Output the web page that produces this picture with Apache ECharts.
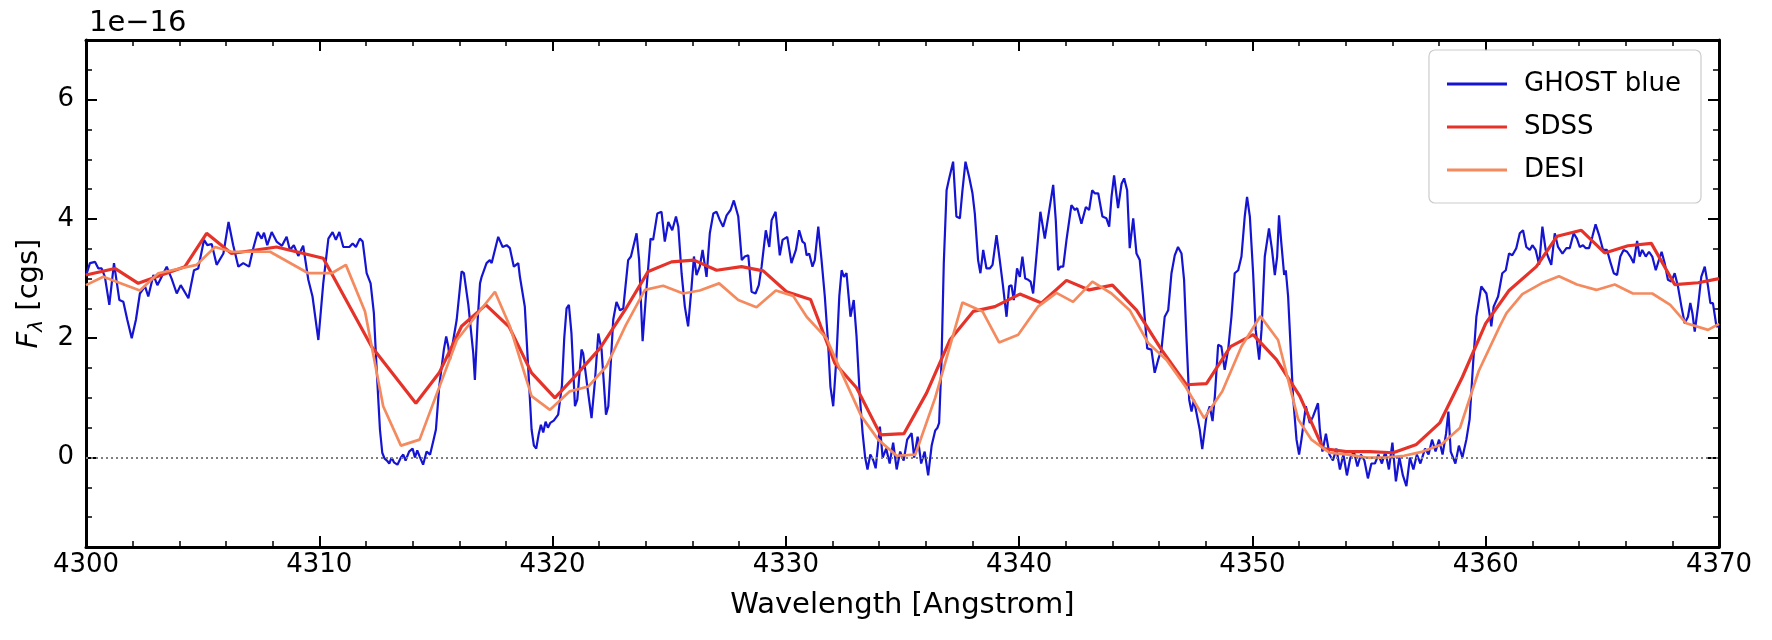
<!DOCTYPE html>
<html>
<head>
<meta charset="utf-8">
<script src="https://cdn.jsdelivr.net/npm/echarts@6/dist/echarts.min.js"></script>
<style>
  html, body { margin: 0; padding: 0; background: #fff; }
  #chart { width: 1772px; height: 640px; }
</style>
</head>
<body>
<div id="chart"></div>
<script>
// GHOST blue arm, [wavelength, flux / 1e-16]
var ghost = [
  [4300.0,3.05],[4300.17,3.26],[4300.39,3.28],[4300.53,3.17],[4300.67,3.17],[4300.81,3.03],[4301.0,2.56],[4301.2,3.26],
  [4301.43,2.64],[4301.6,2.61],[4301.77,2.31],[4301.96,2.0],[4302.14,2.31],[4302.31,2.75],[4302.53,2.87],[4302.67,2.70],
  [4302.89,3.06],[4303.06,2.89],[4303.46,3.20],[4303.67,3.0],[4303.89,2.75],[4304.06,2.89],[4304.39,2.67],[4304.63,3.14],
  [4304.81,3.17],[4305.06,3.65],[4305.2,3.56],[4305.39,3.58],[4305.6,3.23],[4305.89,3.42],[4306.11,3.95],[4306.31,3.56],
  [4306.53,3.2],[4306.74,3.26],[4306.99,3.2],[4307.17,3.51],[4307.36,3.78],[4307.53,3.67],[4307.63,3.77],[4307.77,3.56],
  [4307.96,3.78],[4308.17,3.62],[4308.4,3.55],[4308.6,3.7],[4308.74,3.48],[4308.91,3.56],[4309.1,3.38],[4309.31,3.55],
  [4309.53,2.98],[4309.71,2.7],[4309.96,1.97],[4310.17,2.92],[4310.39,3.67],[4310.57,3.78],[4310.71,3.65],[4310.86,3.78],
  [4311.03,3.53],[4311.29,3.53],[4311.43,3.59],[4311.57,3.53],[4311.74,3.67],[4311.86,3.62],[4312.03,3.09],[4312.2,2.92],
  [4312.34,2.42],[4312.46,1.47],[4312.6,0.47],[4312.7,0.08],[4312.8,-0.02],[4312.9,-0.05],[4313.0,-0.1],[4313.1,0.0],
  [4313.2,-0.08],[4313.35,-0.12],[4313.5,0.0],[4313.6,0.05],[4313.7,-0.05],[4313.85,0.1],[4314.0,0.15],[4314.1,0.0],
  [4314.2,0.12],[4314.3,0.02],[4314.45,-0.12],[4314.6,0.1],[4314.75,0.05],[4314.9,0.3],[4315.0,0.47],[4315.14,1.19],
  [4315.34,1.81],[4315.44,2.03],[4315.53,1.86],[4315.6,1.64],[4315.89,2.31],[4316.1,3.12],[4316.2,3.09],[4316.39,2.56],
  [4316.46,2.53],[4316.6,1.75],[4316.67,1.30],[4316.79,2.31],[4316.89,2.92],[4316.96,3.03],[4317.17,3.26],[4317.31,3.31],
  [4317.39,3.26],[4317.56,3.53],[4317.67,3.70],[4317.86,3.53],[4318.03,3.56],[4318.17,3.51],[4318.34,3.20],[4318.53,3.26],
  [4318.6,3.03],[4318.81,2.53],[4318.96,1.47],[4319.1,0.47],[4319.2,0.2],[4319.3,0.15],[4319.4,0.38],[4319.5,0.55],
  [4319.6,0.42],[4319.7,0.6],[4319.8,0.5],[4319.9,0.58],[4320.05,0.62],[4320.24,0.72],[4320.4,1.2],[4320.5,2.0],
  [4320.6,2.5],[4320.7,2.56],[4320.81,2.08],[4320.96,0.86],[4321.06,0.97],[4321.24,1.81],[4321.31,1.75],[4321.49,1.19],
  [4321.67,0.66],[4321.81,1.25],[4321.96,2.08],[4322.1,1.81],[4322.29,0.72],[4322.39,0.86],[4322.6,2.31],[4322.74,2.61],
  [4322.89,2.47],[4323.03,2.50],[4323.24,3.31],[4323.36,3.37],[4323.43,3.34],[4323.6,3.76],[4323.71,3.31],[4323.86,1.95],
  [4324.0,2.70],[4324.2,3.67],[4324.31,3.65],[4324.49,4.09],[4324.67,4.12],[4324.81,3.62],[4324.96,3.95],[4325.13,3.81],
  [4325.29,4.04],[4325.39,3.87],[4325.53,3.09],[4325.67,2.53],[4325.81,2.20],[4325.96,2.87],[4326.06,3.37],[4326.17,3.06],
  [4326.31,3.20],[4326.43,3.48],[4326.6,3.03],[4326.74,3.76],[4326.89,4.09],[4327.03,4.12],[4327.17,3.98],[4327.31,3.87],
  [4327.46,4.06],[4327.63,4.15],[4327.77,4.31],[4327.96,4.04],[4328.11,3.31],[4328.24,3.37],[4328.39,3.39],[4328.53,2.78],
  [4328.7,2.75],[4328.84,2.89],[4328.96,3.20],[4329.14,3.81],[4329.29,3.53],[4329.39,3.98],[4329.56,4.12],[4329.74,3.39],
  [4329.86,3.65],[4330.06,3.70],[4330.24,3.26],[4330.43,3.48],[4330.57,3.81],[4330.71,3.62],[4330.81,3.59],[4330.89,3.39],
  [4331.0,3.42],[4331.14,3.20],[4331.24,3.31],[4331.39,3.87],[4331.53,3.31],[4331.67,2.70],[4331.81,1.92],[4331.91,1.19],
  [4332.03,0.86],[4332.17,1.69],[4332.29,2.70],[4332.39,3.14],[4332.49,3.03],[4332.6,3.09],[4332.77,2.36],[4332.91,2.64],
  [4333.03,2.03],[4333.17,1.03],[4333.29,0.41],[4333.4,0.0],[4333.5,-0.2],[4333.62,0.05],[4333.75,-0.05],[4333.85,-0.18],
  [4334.03,0.52],[4334.15,0.0],[4334.3,0.15],[4334.45,-0.1],[4334.6,0.25],[4334.75,-0.2],[4334.9,0.1],[4335.05,-0.05],
  [4335.2,0.3],[4335.39,0.41],[4335.5,0.0],[4335.65,0.35],[4335.8,-0.1],[4335.95,0.1],[4336.1,-0.3],[4336.25,0.2],
  [4336.4,0.45],[4336.5,0.5],[4336.57,0.58],[4336.67,1.58],[4336.77,3.26],[4336.89,4.48],[4337.0,4.68],[4337.17,4.96],
  [4337.31,4.04],[4337.46,4.01],[4337.57,4.48],[4337.7,4.96],[4337.86,4.70],[4338.0,4.43],[4338.1,4.09],[4338.24,3.31],
  [4338.34,3.09],[4338.46,3.48],[4338.6,3.17],[4338.74,3.17],[4338.86,3.23],[4339.03,3.73],[4339.17,3.31],[4339.31,2.87],
  [4339.46,2.36],[4339.57,2.87],[4339.67,2.89],[4339.77,2.64],[4339.91,3.17],[4340.03,3.03],[4340.14,3.37],[4340.26,3.0],
  [4340.39,2.98],[4340.49,2.95],[4340.6,2.75],[4340.74,3.37],[4340.91,4.12],[4341.1,3.67],[4341.46,4.57],[4341.57,3.98],
  [4341.67,3.14],[4341.77,3.20],[4341.89,3.20],[4342.03,3.65],[4342.24,4.23],[4342.39,4.15],[4342.49,4.18],[4342.67,3.92],
  [4342.86,4.20],[4343.0,4.15],[4343.13,4.48],[4343.24,4.43],[4343.39,4.43],[4343.57,4.04],[4343.74,4.01],[4343.86,3.87],
  [4343.96,4.37],[4344.07,4.73],[4344.24,4.18],[4344.39,4.59],[4344.5,4.68],[4344.63,4.48],[4344.74,3.51],[4344.89,4.01],
  [4345.03,3.42],[4345.17,3.31],[4345.31,2.70],[4345.49,1.83],[4345.67,1.81],[4345.81,1.42],[4345.96,1.64],[4346.1,1.81],
  [4346.24,2.36],[4346.39,2.47],[4346.53,3.09],[4346.67,3.39],[4346.81,3.53],[4346.96,3.42],[4347.07,2.98],[4347.17,2.03],
  [4347.29,0.97],[4347.39,0.77],[4347.49,0.97],[4347.6,0.75],[4347.74,0.47],[4347.85,0.14],[4348.03,0.69],[4348.17,0.86],
  [4348.29,0.61],[4348.39,1.03],[4348.53,1.89],[4348.67,1.86],[4348.81,1.47],[4348.96,1.81],[4349.1,2.36],[4349.24,3.09],
  [4349.39,3.14],[4349.53,3.37],[4349.67,4.04],[4349.77,4.37],[4349.89,4.04],[4350.03,3.09],[4350.14,2.14],[4350.29,1.64],
  [4350.39,2.14],[4350.53,3.37],[4350.71,3.84],[4350.84,3.48],[4350.96,3.06],[4351.06,3.37],[4351.14,4.06],[4351.24,3.59],
  [4351.36,3.06],[4351.43,3.14],[4351.53,2.70],[4351.74,1.03],[4351.89,0.30],[4352.0,0.05],[4352.1,0.3],[4352.29,0.86],
  [4352.46,0.58],[4352.6,0.69],[4352.81,0.91],[4352.89,0.47],[4353.0,0.1],[4353.15,0.4],[4353.3,0.05],[4353.45,-0.05],
  [4353.6,0.15],[4353.75,-0.2],[4353.9,0.05],[4354.05,-0.3],[4354.2,0.0],[4354.35,0.1],[4354.5,-0.15],[4354.65,0.05],
  [4354.8,-0.05],[4354.95,-0.35],[4355.1,-0.1],[4355.25,-0.1],[4355.4,0.05],[4355.55,-0.1],[4355.7,0.1],[4355.85,-0.2],
  [4356.0,0.25],[4356.15,-0.4],[4356.3,0.0],[4356.45,-0.3],[4356.6,-0.48],[4356.75,0.0],[4356.9,-0.2],[4357.05,0.05],
  [4357.2,-0.1],[4357.4,0.15],[4357.55,0.05],[4357.7,0.3],[4357.85,0.1],[4358.0,0.3],[4358.15,0.05],[4358.3,0.4],
  [4358.4,0.77],[4358.5,0.1],[4358.7,-0.1],[4358.85,0.2],[4359.0,0.0],[4359.17,0.3],[4359.31,0.64],[4359.46,1.58],
  [4359.6,2.36],[4359.81,2.87],[4360.03,2.75],[4360.14,2.47],[4360.24,2.20],[4360.34,2.53],[4360.53,2.70],[4360.71,3.09],
  [4360.86,3.14],[4361.0,3.42],[4361.14,3.39],[4361.31,3.51],[4361.46,3.76],[4361.6,3.81],[4361.74,3.53],[4361.89,3.48],
  [4362.0,3.56],[4362.14,3.48],[4362.29,3.23],[4362.43,3.87],[4362.57,3.48],[4362.67,3.37],[4362.81,3.23],[4362.96,3.76],
  [4363.1,3.53],[4363.29,3.42],[4363.46,3.51],[4363.6,3.51],[4363.77,3.76],[4363.91,3.67],[4364.03,3.53],[4364.17,3.56],
  [4364.29,3.51],[4364.43,3.51],[4364.57,3.70],[4364.71,3.91],[4364.86,3.73],[4365.03,3.48],[4365.2,3.48],[4365.34,3.28],
  [4365.49,3.09],[4365.63,3.06],[4365.77,3.37],[4365.91,3.48],[4366.06,3.45],[4366.2,3.37],[4366.34,3.26],[4366.49,3.63],
  [4366.6,3.37],[4366.71,3.48],[4366.86,3.37],[4367.0,3.45],[4367.14,3.37],[4367.29,3.14],[4367.4,3.28],[4367.54,3.45],
  [4367.67,3.26],[4367.81,2.98],[4367.96,2.95],[4368.1,3.09],[4368.24,2.87],[4368.39,2.53],[4368.53,2.25],[4368.67,2.36],
  [4368.77,2.59],[4368.86,2.42],[4368.96,2.11],[4369.1,2.53],[4369.24,3.03],[4369.39,3.20],[4369.53,2.87],[4369.63,2.59],
  [4369.74,2.59],[4369.89,2.20],[4370.0,2.2]
];

// SDSS spectrum
var sdss = [
  [4300.0,3.06],[4301.24,3.17],[4302.24,2.92],[4304.24,3.2],[4305.17,3.76],[4306.24,3.42],[4308.17,3.53],[4310.17,3.34],
  [4312.24,1.86],[4314.14,0.91],[4315.14,1.42],[4316.1,2.2],[4317.14,2.56],[4318.14,2.19],[4319.1,1.42],[4320.1,1.0],
  [4321.03,1.39],[4322.03,1.83],[4323.1,2.47],[4324.1,3.12],[4325.1,3.28],[4326.06,3.31],[4327.03,3.14],[4328.1,3.2],
  [4329.03,3.13],[4330.03,2.78],[4331.06,2.65],[4332.1,1.58],[4333.03,1.17],[4334.06,0.38],[4335.06,0.4],[4336.03,1.08],
  [4337.03,1.97],[4338.03,2.45],[4338.96,2.53],[4340.03,2.74],[4340.96,2.59],[4342.03,2.97],[4343.0,2.81],[4344.0,2.89],
  [4345.03,2.47],[4346.1,1.81],[4347.17,1.22],[4348.03,1.24],[4349.06,1.86],[4350.03,2.06],[4351.03,1.64],[4352.03,1.03],
  [4353.03,0.15],[4354.03,0.1],[4355.03,0.1],[4356.03,0.08],[4357.03,0.22],[4358.03,0.58],[4359.0,1.35],[4360.0,2.25],
  [4361.0,2.8],[4362.17,3.2],[4363.06,3.71],[4364.1,3.81],[4365.1,3.43],[4366.1,3.55],[4367.1,3.59],[4368.1,2.9],
  [4369.1,2.93],[4370.0,3.0]
];

// DESI spectrum
var desi = [
  [4300.0,2.89],[4300.74,3.03],[4302.31,2.80],[4303.1,3.09],[4304.74,3.23],[4305.53,3.53],[4306.24,3.45],[4307.89,3.45],
  [4309.53,3.09],[4310.53,3.09],[4311.14,3.23],[4311.96,2.45],[4312.74,0.86],[4313.5,0.2],[4314.3,0.3],[4315.9,1.97],
  [4317.53,2.78],[4318.17,2.2],[4319.1,1.03],[4319.89,0.8],[4320.74,1.11],[4321.53,1.19],[4322.31,1.53],[4323.14,2.22],
  [4323.96,2.81],[4324.74,2.88],[4325.6,2.75],[4326.31,2.8],[4327.14,2.92],[4327.96,2.64],[4328.74,2.52],[4329.57,2.8],
  [4330.31,2.71],[4330.89,2.36],[4331.74,2.0],[4332.46,1.36],[4333.24,0.69],[4333.96,0.3],[4334.75,0.03],[4335.55,0.05],
  [4336.4,1.0],[4337.57,2.6],[4338.43,2.45],[4339.14,1.93],[4339.96,2.06],[4340.81,2.53],[4341.6,2.76],[4342.31,2.61],
  [4343.14,2.95],[4343.96,2.75],[4344.74,2.47],[4345.53,1.92],[4346.31,1.64],[4347.13,1.19],[4347.93,0.66],[4348.71,1.11],
  [4349.53,1.86],[4350.34,2.37],[4351.1,1.97],[4351.96,0.64],[4352.53,0.3],[4353.3,0.08],[4354.1,0.05],[4354.9,0.0],
  [4355.7,0.0],[4356.5,0.03],[4357.3,0.1],[4358.1,0.22],[4358.9,0.5],[4359.7,1.45],[4360.6,2.2],[4360.89,2.42],
  [4361.57,2.74],[4362.39,2.92],[4363.14,3.04],[4363.91,2.9],[4364.74,2.81],[4365.53,2.9],[4366.31,2.75],[4367.14,2.75],
  [4367.91,2.56],[4368.6,2.25],[4369.53,2.14],[4370.0,2.24]
];

var seriesNames = ['GHOST blue', 'SDSS', 'DESI'];
var seriesColors = ['#1414d2', '#e6332a', '#f48a5e'];
var yMajorTicks = [0, 2, 4, 6];
var yMinorTicks = [-1, -0.5, 0.5, 1, 1.5, 2.5, 3, 3.5, 4.5, 5, 5.5, 6.5];

var FONT = 'DejaVu Sans';
var chart = echarts.init(document.getElementById('chart'));

function plain (v) {
  return String(v);
}

function xAxisCfg (pos, labels) {
  return {
    type: 'value', min: 4300, max: 4370, interval: 10, position: pos,
    axisLine: { show: true, onZero: false, lineStyle: { color: '#000', width: 3 } },
    axisTick: { show: true, inside: true, length: 11, lineStyle: { color: '#000', width: 2 } },
    minorTick: { show: true, splitNumber: 5, length: 6, lineStyle: { color: '#000', width: 1.5 } },
    axisLabel: { show: labels, formatter: plain, color: '#000', fontSize: 26, fontFamily: FONT, margin: 5 },
    splitLine: { show: false }
  }
}

function yAxisCfg (pos, ticks, len, labels, line) {
  return {
    type: 'value', min: -1.5, max: 7, position: pos,
    axisLine: { show: line, onZero: false, lineStyle: { color: '#000', width: 3 } },
    axisTick: { show: true, inside: true, length: len, customValues: ticks, lineStyle: { color: '#000', width: len > 8 ? 2 : 1.5 } },
    axisLabel: { show: labels, customValues: ticks, formatter: plain, color: '#000', fontSize: 26, fontFamily: FONT, margin: 12 },
    splitLine: { show: false }
  }
}

var xBottom = xAxisCfg('bottom', true);
xBottom.name = 'Wavelength [Angstrom]';
xBottom.nameLocation = 'middle';
xBottom.nameGap = 44;
xBottom.nameTextStyle = { color: '#000', fontSize: 29, fontFamily: FONT };

var yLeft = yAxisCfg('left', yMajorTicks, 11, true, true);
yLeft.name = '{f|F}{s|λ} [cgs]';
yLeft.nameLocation = 'middle';
yLeft.nameGap = 33;
yLeft.nameTextStyle = {
  color: '#000', fontSize: 29, fontFamily: FONT,
  rich: {
    f: { fontSize: 29, fontStyle: 'italic', fontFamily: FONT, color: '#000' },
    s: { fontSize: 20, fontStyle: 'italic', fontFamily: FONT, color: '#000', padding: [14, 0, 0, 0] }
  }
};

var option = {
  animation: false,
  backgroundColor: '#fff',
  title: {
    text: '1e\u221216', left: 84, top: 4,
    textStyle: { fontSize: 29, fontWeight: 'normal', color: '#000', fontFamily: FONT }
  },
  legend: {
    data: seriesNames.map(function (n) { return { name: n, icon: 'rect' } }),
    orient: 'vertical', right: 71, top: 50,
    itemWidth: 60, itemHeight: 3, itemGap: 17,
    padding: [21, 20, 20, 18],
    borderColor: '#cccccc', borderWidth: 1.2, borderRadius: 6,
    backgroundColor: 'rgba(255,255,255,0.8)',
    textStyle: { fontSize: 26, color: '#000', fontFamily: FONT, padding: [0, 0, 0, 12] }
  },
  grid: { left: 86, right: 53, top: 40, bottom: 93 },
  xAxis: [xBottom, xAxisCfg('top', false)],
  yAxis: [
    yLeft,
    yAxisCfg('left', yMinorTicks, 6, false, false),
    yAxisCfg('right', yMajorTicks, 11, false, true),
    yAxisCfg('right', yMinorTicks, 6, false, false)
  ],
  series: [
    {
      name: seriesNames[0], type: 'line', data: ghost, symbol: 'none', z: 2,
      lineStyle: { color: seriesColors[0], width: 2.2 }, itemStyle: { color: seriesColors[0] },
      markLine: {
        silent: true, symbol: ['none', 'none'], label: { show: false },
        lineStyle: { color: '#808080', width: 1.8, type: [2, 3] },
        data: [{ yAxis: 0 }]
      }
    },
    {
      name: seriesNames[1], type: 'line', data: sdss, symbol: 'none', z: 3,
      lineStyle: { color: seriesColors[1], width: 3.2 }, itemStyle: { color: seriesColors[1] }
    },
    {
      name: seriesNames[2], type: 'line', data: desi, symbol: 'none', z: 4,
      lineStyle: { color: seriesColors[2], width: 2.7 }, itemStyle: { color: seriesColors[2] }
    }
  ]
};

chart.setOption(option);
</script>
</body>
</html>
